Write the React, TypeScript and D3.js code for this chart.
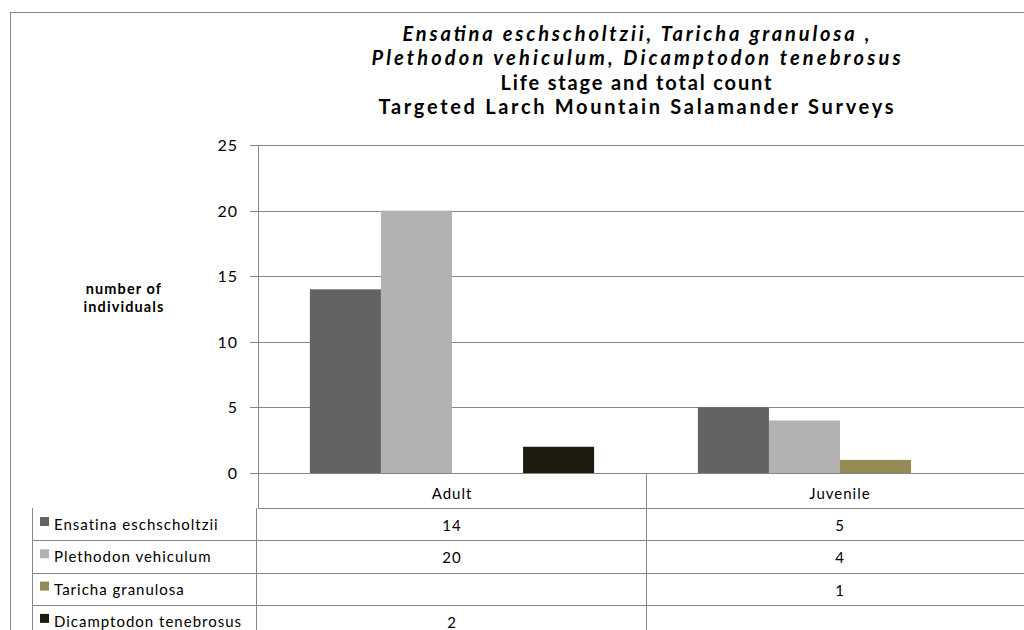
import React from "react"
import * as d3 from "d3"

const categories = ["Adult", "Juvenile"]
const seriesNames = ["Ensatina eschscholtzii", "Plethodon vehiculum", "Taricha granulosa", "Dicamptodon tenebrosus"]
const ensatina = [14, 5]
const plethodon = [20, 4]
const taricha = [null, 1]
const dicamptodon = [2, null]
const colors = ["#636363", "#b2b2b2", "#948a54", "#1d1b10"]
const yTicks = [0, 5, 10, 15, 20, 25]
const titleLines = [
  {text: "Ensatina eschscholtzii, Taricha granulosa ,", italic: true, width: 467},
  {text: "Plethodon vehiculum, Dicamptodon tenebrosus", italic: true, width: 529},
  {text: "Life stage and total count", italic: false, width: 271},
  {text: "Targeted Larch Mountain Salamander Surveys", italic: false, width: 515},
]

const values: (number | null)[][] = [ensatina, plethodon, taricha, dicamptodon]

export default function App() {
  const W = 1024, H = 630
  const font = "Lato, 'Open Sans', sans-serif"
  const grid = "#878787"

  // plot area
  const left = 258, right = 1034, top = 145, bottom = 473
  const y = d3.scaleLinear().domain([0, 25]).range([bottom, top])
  const x0 = d3.scaleBand().domain(categories).range([left, right])
  const x1 = d3.scaleBand().domain(seriesNames).range([0, x0.bandwidth()]).paddingOuter(0.73)

  // data table
  const tableLeft = 32, rowH = 32.3
  const headTop = bottom, headBottom = 508
  const cell = {fontFamily: font, fontSize: 15, letterSpacing: 1.0, fill: "#000"}

  return (
    <svg width={W} height={H} style={{position: "fixed", left: 0, top: 0, display: "block", background: "#fff"}}>
      <rect x={10.5} y={12.5} width={1300} height={700} fill="#fff" stroke="#868686" strokeWidth={1} />

      {titleLines.map((l, i) => (
        <text key={i} x={636} y={41 + i * 24.4} textAnchor="middle" fontFamily={font}
              fontSize={20} fontWeight="bold" fontStyle={l.italic ? "italic" : "normal"} fill="#000"
              textLength={l.width} lengthAdjust="spacing">
          {l.text}
        </text>
      ))}

      <text fontFamily={font} fontSize={14.5} fontWeight="bold" letterSpacing={1.1} textAnchor="middle" fill="#000">
        <tspan x={124} y={294}>number of</tspan>
        <tspan x={124} y={312}>individuals</tspan>
      </text>

      {/* gridlines and ticks */}
      {yTicks.map(t => (
        <g key={t}>
          <line x1={250} x2={right} y1={Math.round(y(t)) + 0.5} y2={Math.round(y(t)) + 0.5} stroke={grid} />
          <text x={238} y={y(t) + 6} textAnchor="end" fontFamily={font} fontSize={16} letterSpacing={1.0} fill="#000">{t}</text>
        </g>
      ))}
      <line x1={left + 0.5} x2={left + 0.5} y1={top} y2={headBottom} stroke={grid} />

      {/* bars */}
      {categories.map((c, ci) => (
        <g key={c} transform={`translate(${x0(c)},0)`}>
          {seriesNames.map((s, si) => {
            const v = values[si][ci]
            if (v == null) return null
            return <rect key={s} x={x1(s)} y={y(v)} width={x1.bandwidth()} height={y(0) - y(v)} fill={colors[si]} />
          })}
        </g>
      ))}

      {/* table */}
      <line x1={left} x2={right} y1={headBottom + 0.5} y2={headBottom + 0.5} stroke={grid} />
      <line x1={x0("Juvenile")! + 0.5} x2={x0("Juvenile")! + 0.5} y1={headTop} y2={H} stroke={grid} />
      {categories.map(c => (
        <text key={c} x={x0(c)! + x0.bandwidth() / 2} y={499} textAnchor="middle" {...cell}>{c}</text>
      ))}
      <line x1={tableLeft + 0.5} x2={tableLeft + 0.5} y1={headBottom} y2={H} stroke={grid} />
      <line x1={256.5} x2={256.5} y1={headBottom} y2={H} stroke={grid} />
      {seriesNames.map((s, si) => {
        const rowTop = headBottom + si * rowH
        return (
          <g key={s}>
            <line x1={tableLeft} x2={right} y1={Math.round(rowTop + rowH) + 0.5} y2={Math.round(rowTop + rowH) + 0.5} stroke={grid} />
            <rect x={40} y={rowTop + 9} width={9} height={9} fill={colors[si]} />
            <text x={54} y={rowTop + 22} {...cell}>{s}</text>
            {categories.map((c, ci) => values[si][ci] == null ? null : (
              <text key={c} x={x0(c)! + x0.bandwidth() / 2} y={rowTop + 23} textAnchor="middle" {...cell}>
                {values[si][ci]}
              </text>
            ))}
          </g>
        )
      })}
    </svg>
  )
}
